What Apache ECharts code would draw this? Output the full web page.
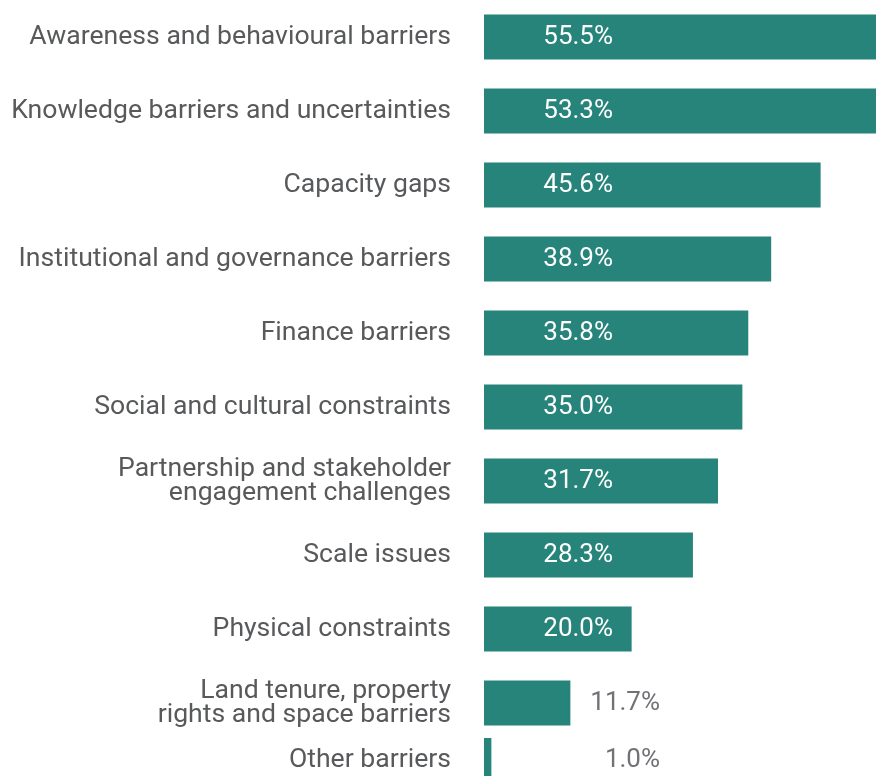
<!DOCTYPE html>
<html>
<head>
<meta charset="utf-8">
<script src="https://cdn.jsdelivr.net/npm/echarts@6/dist/echarts.min.js"></script>
<style>
  html, body { margin: 0; padding: 0; background: #ffffff; }
  #chart { width: 876px; height: 776px; }
</style>
</head>
<body>
<div id="chart"></div>
<script>
// Reported barriers, share of responses (%)
const categories = [
  'Awareness and behavioural barriers',
  'Knowledge barriers and uncertainties',
  'Capacity gaps',
  'Institutional and governance barriers',
  'Finance barriers',
  'Social and cultural constraints',
  'Partnership and stakeholder\nengagement challenges',
  'Scale issues',
  'Physical constraints',
  'Land tenure, property\nrights and space barriers',
  'Other barriers'
];
const values = [55.5, 53.3, 45.6, 38.9, 35.8, 35.0, 31.7, 28.3, 20.0, 11.7, 1.0];

const BAR_COLOR = '#27847A';
const FONT = 'Roboto';
const AXIS_MAX = 53.1;
const INSIDE_MIN = 15; // shorter bars carry their label outside

const mainCats = categories.slice(0, 10);
const mainVals = values.slice(0, 10);
const lastCats = categories.slice(10);
const lastVals = values.slice(10);

function barData(vals) {
  return vals.map(v => {
    const inside = v >= INSIDE_MIN;
    return {
      value: v,
      label: {
        show: true,
        position: inside ? [129, '50%'] : [176, '50%'],
        align: 'right',
        verticalAlign: 'middle',
        color: inside ? '#ffffff' : '#707275',
        fontFamily: FONT,
        fontSize: 26,
        padding: [3, 0, 0, 0],
        formatter: p => p.value.toFixed(1) + '%'
      }
    };
  });
}

// Two-line labels sit a little differently in their rows
function catItems(cats) {
  return cats.map(c => c.startsWith('Land tenure')
    ? { value: c, textStyle: { padding: [0, 0, 3, 0] } }
    : c);
}

function yAxisFor(cats, gridIndex, padTop) {
  return {
    type: 'category',
    gridIndex,
    data: catItems(cats),
    inverse: true,
    axisLine: { show: false },
    axisTick: { show: false },
    splitLine: { show: false },
    axisLabel: {
      margin: 33,
      color: '#58595b',
      fontFamily: FONT,
      fontSize: 26.6,
      lineHeight: 24,
      padding: [padTop, 0, 0, 0],
      align: 'right'
    }
  };
}

function xAxisFor(gridIndex) {
  return {
    type: 'value',
    gridIndex,
    min: 0,
    max: AXIS_MAX,
    show: false
  };
}

const chart = echarts.init(document.getElementById('chart'), null, { renderer: 'canvas' });
chart.setOption({
  backgroundColor: '#ffffff',
  animation: false,
  grid: [
    { left: 484, right: 0, top: 0, bottom: 36, containLabel: false },
    { left: 484, right: 0, top: 745, bottom: 0, containLabel: false }
  ],
  xAxis: [xAxisFor(0), xAxisFor(1)],
  yAxis: [yAxisFor(mainCats, 0, 9), yAxisFor(lastCats, 1, 3)],
  series: [
    {
      type: 'bar',
      xAxisIndex: 0,
      yAxisIndex: 0,
      data: barData(mainVals),
      barWidth: 45,
      itemStyle: { color: BAR_COLOR },
      clip: true
    },
    {
      type: 'bar',
      xAxisIndex: 1,
      yAxisIndex: 1,
      data: barData(lastVals),
      barWidth: 45,
      itemStyle: { color: BAR_COLOR },
      clip: false
    }
  ]
});
</script>
</body>
</html>
